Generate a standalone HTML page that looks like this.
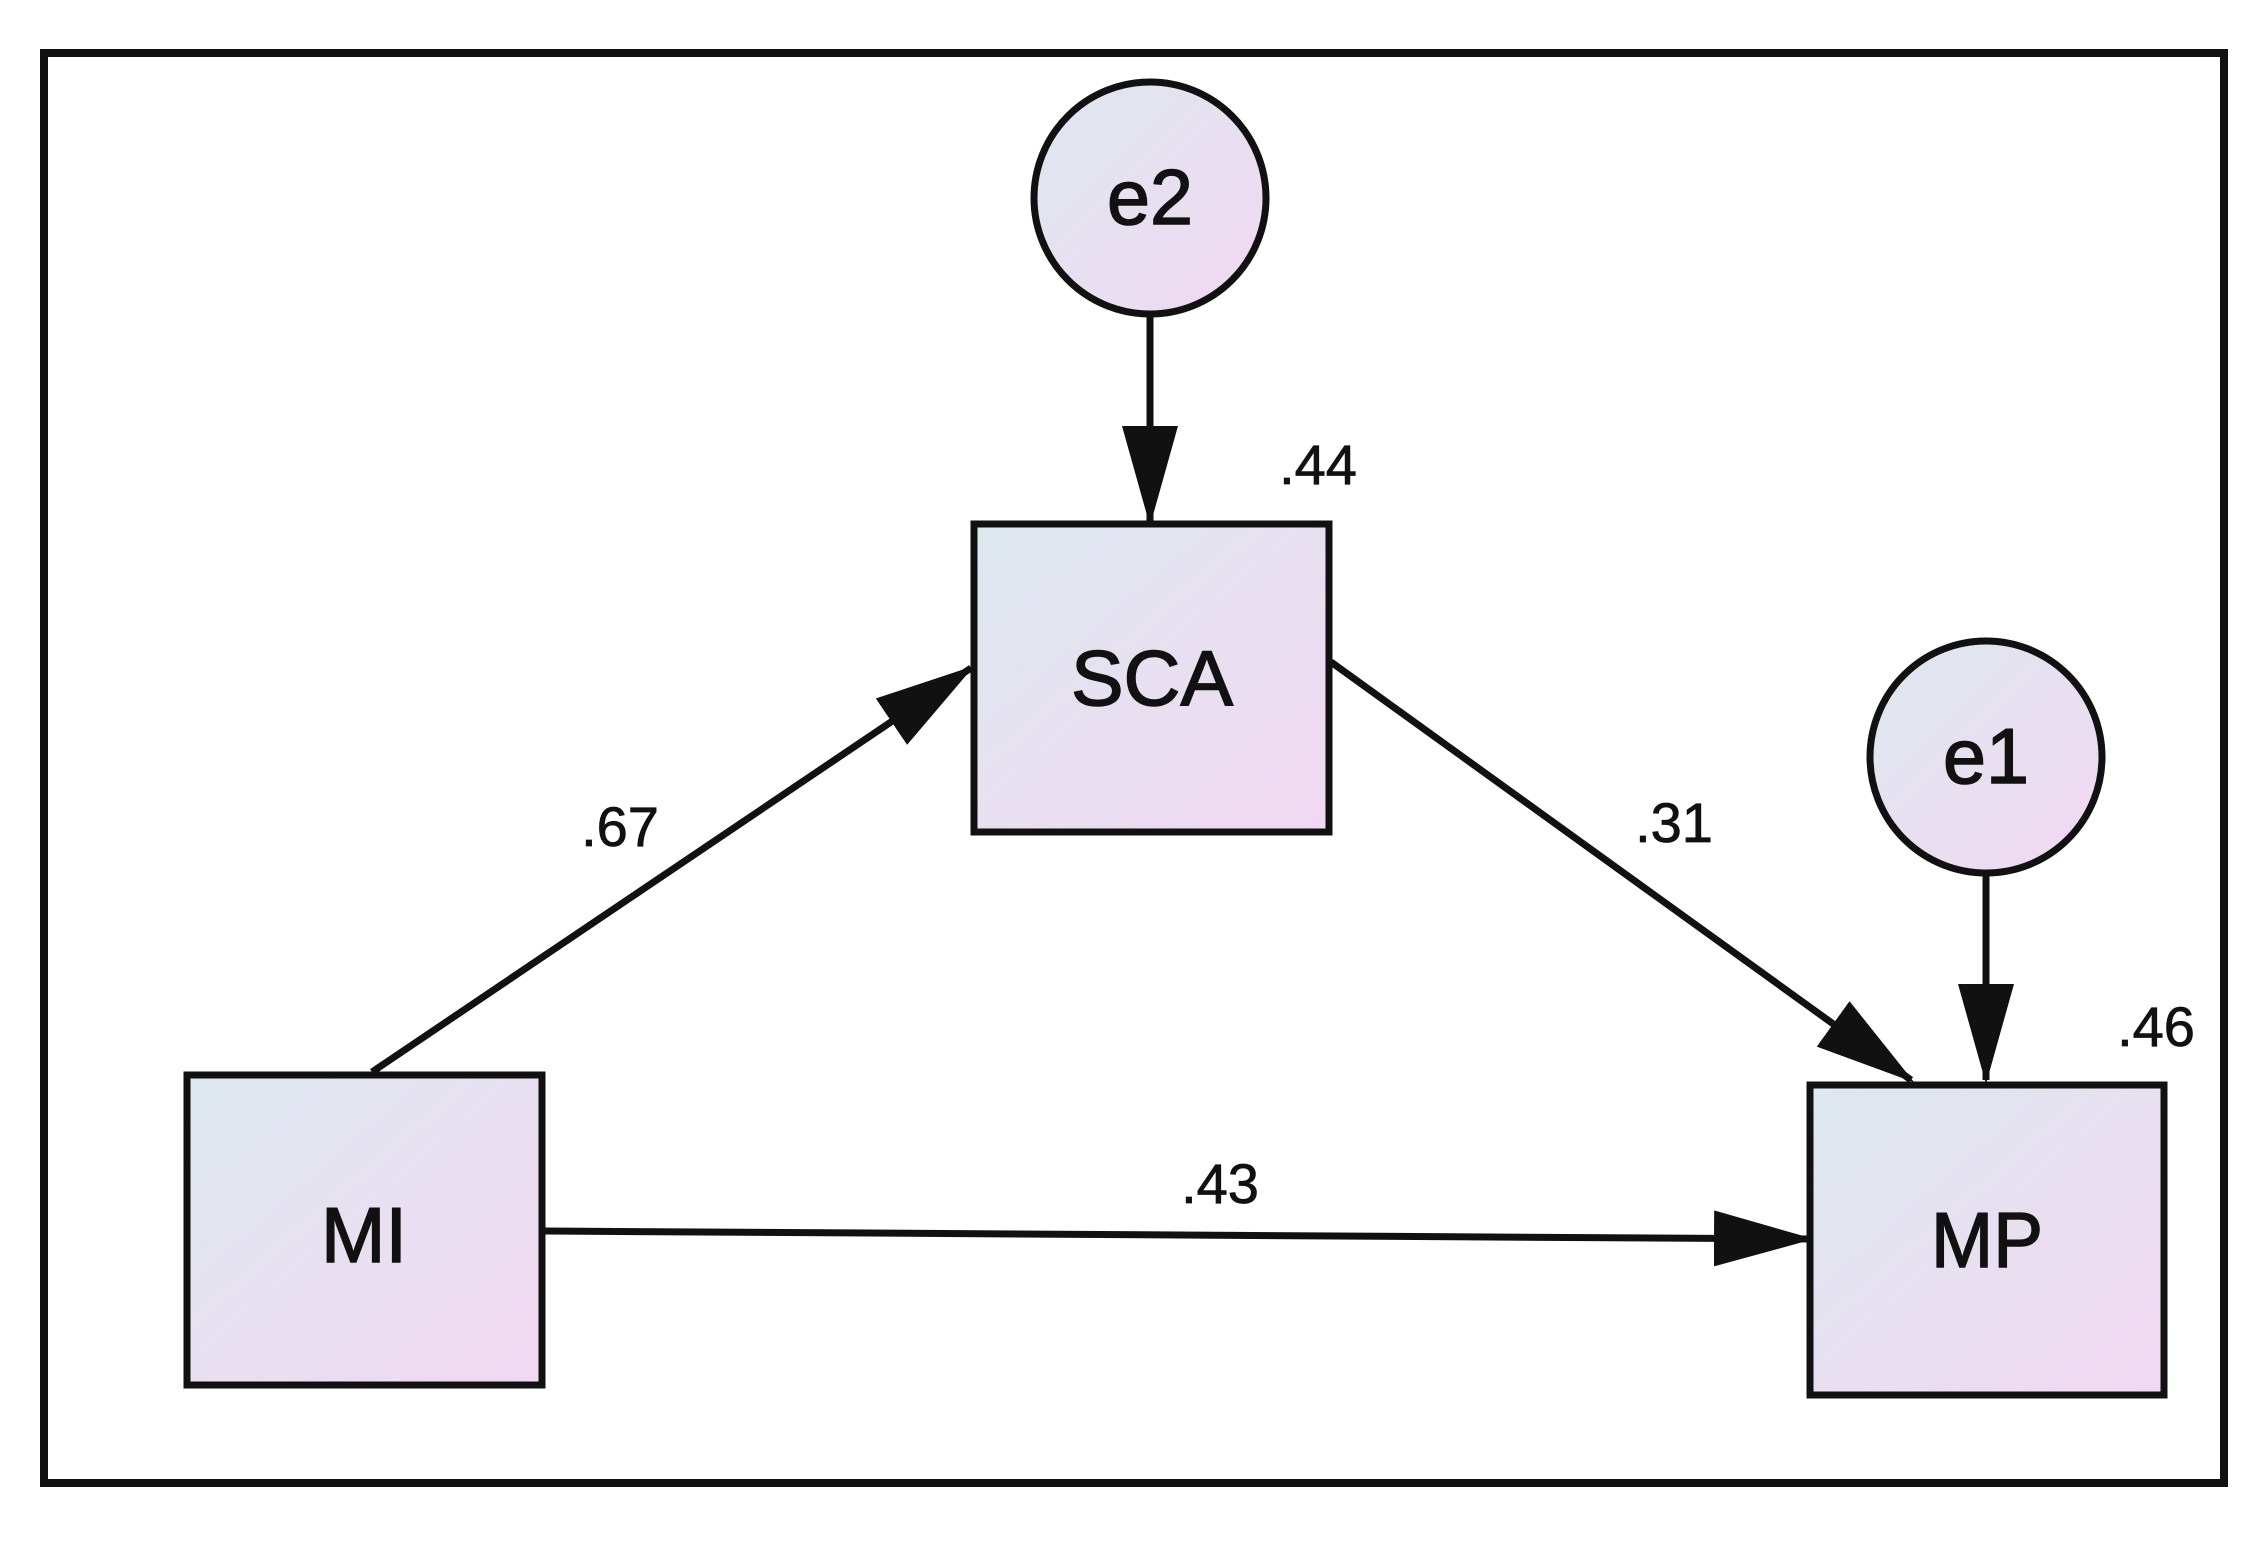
<!DOCTYPE html>
<html><head><meta charset="utf-8"><style>html,body{margin:0;padding:0;background:#fff}</style></head>
<body>
<svg width="2260" height="1536" viewBox="0 0 2260 1536" xmlns="http://www.w3.org/2000/svg">
<defs>
<linearGradient id="g" x1="0" y1="0" x2="1" y2="1">
<stop offset="0" stop-color="#dde8ef"/><stop offset="1" stop-color="#f2d8f2"/>
</linearGradient>
<marker id="a" markerUnits="userSpaceOnUse" markerWidth="100" markerHeight="60" refX="96" refY="28" orient="auto">
<path d="M0,0 L100,28 L0,56 Z" fill="#111"/>
</marker>
</defs>
<rect x="44" y="53" width="2180" height="1430" fill="none" stroke="#111" stroke-width="8"/>
<g stroke="#111" stroke-width="7" fill="none">
<line x1="1150" y1="313" x2="1150" y2="522" marker-end="url(#a)"/>
<line x1="372" y1="1072" x2="971" y2="668" marker-end="url(#a)"/>
<line x1="1331" y1="662" x2="1911" y2="1080" marker-end="url(#a)"/>
<line x1="1986" y1="873" x2="1986" y2="1080" marker-end="url(#a)"/>
<line x1="545" y1="1231" x2="1810" y2="1239" marker-end="url(#a)"/>
</g>
<g stroke="#111" stroke-width="7" fill="url(#g)">
<circle cx="1150" cy="198" r="116"/>
<circle cx="1986" cy="757" r="116"/>
<rect x="974" y="524" width="355" height="308"/>
<rect x="187" y="1075" width="355" height="310"/>
<rect x="1810" y="1085" width="354" height="310"/>
</g>
<g font-family="Liberation Sans, sans-serif" fill="#111" text-anchor="middle" stroke="#111" stroke-width="1.5">
<g font-size="78">
<text x="1150" y="224" textLength="86" lengthAdjust="spacingAndGlyphs">e2</text>
<text x="1986" y="783" textLength="86" lengthAdjust="spacingAndGlyphs">e1</text>
<text x="1152" y="705" textLength="162" lengthAdjust="spacingAndGlyphs">SCA</text>
<text x="364" y="1262" textLength="86" lengthAdjust="spacingAndGlyphs">MI</text>
<text x="1987" y="1267" textLength="112" lengthAdjust="spacingAndGlyphs">MP</text>
</g>
<g font-size="56" stroke-width="0.8">
<text x="1318" y="484">.44</text>
<text x="620" y="846">.67</text>
<text x="1674" y="842">.31</text>
<text x="2156" y="1046">.46</text>
<text x="1220" y="1203">.43</text>
</g>
</g>
</svg>
</body></html>
